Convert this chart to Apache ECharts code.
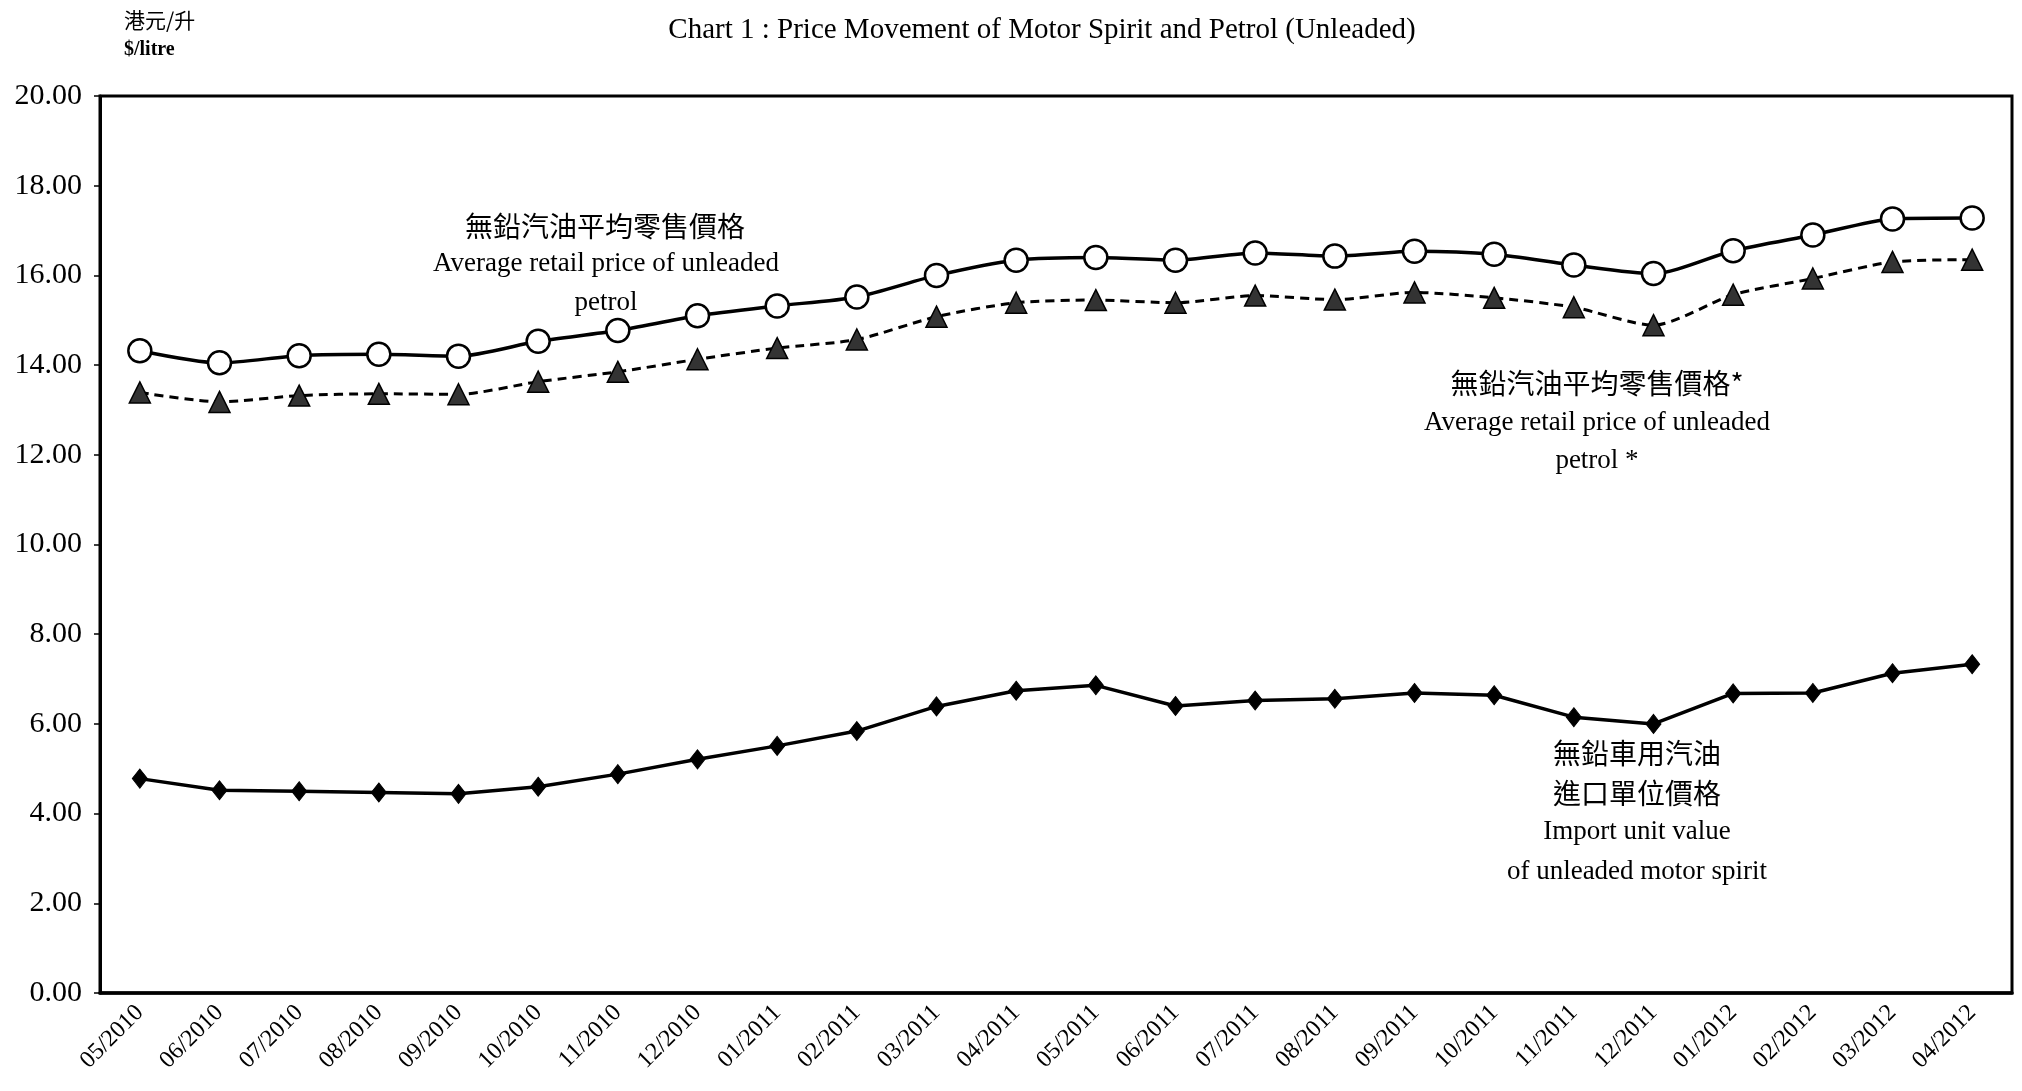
<!DOCTYPE html>
<html>
<head>
<meta charset="utf-8">
<script src="https://cdn.jsdelivr.net/npm/echarts@6/dist/echarts.min.js"></script>
<style>
html,body{margin:0;padding:0;background:#fff;}
#chart{width:2022px;height:1091px;}
</style>
</head>
<body>
<div id="chart"></div>
<script>
const categories = ['05/2010','06/2010','07/2010','08/2010','09/2010','10/2010','11/2010','12/2010',
  '01/2011','02/2011','03/2011','04/2011','05/2011','06/2011','07/2011','08/2011','09/2011','10/2011','11/2011','12/2011',
  '01/2012','02/2012','03/2012','04/2012'];
const retailPrice = [14.32,14.05,14.21,14.24,14.20,14.53,14.77,15.10,15.32,15.52,16.00,16.34,16.40,16.34,16.50,16.43,16.54,16.47,16.23,16.04,16.55,16.90,17.26,17.28];
const retailPriceStar = [13.39,13.18,13.32,13.36,13.35,13.63,13.85,14.13,14.38,14.57,15.08,15.39,15.45,15.39,15.55,15.46,15.62,15.50,15.29,14.89,15.57,15.93,16.30,16.35];
const importUnitValue = [4.78,4.52,4.50,4.47,4.44,4.60,4.88,5.21,5.51,5.84,6.39,6.74,6.86,6.40,6.52,6.56,6.69,6.64,6.15,6.00,6.68,6.69,7.13,7.33];
const yMin = 0, yMax = 20, yStep = 2;

const serif = '"Liberation Serif", "Times New Roman", serif';
const cjk = '"Noto Sans CJK TC", "Noto Sans CJK SC", sans-serif';

const chart = echarts.init(document.getElementById('chart'));
function txt(x, y, text, size, family, extra) {
  return {
    type: 'text', x: x, y: y,
    style: Object.assign({text: text, fill: '#000', fontSize: size, fontFamily: family,
      textAlign: 'center', textVerticalAlign: 'middle'}, extra || {})
  };
}
chart.setOption({
  backgroundColor: '#fff',
  animation: false,
  grid: {left: 100, right: 10, top: 96, bottom: 98, show: true, borderColor: '#000', borderWidth: 3},
  xAxis: {
    type: 'category', data: categories, boundaryGap: true,
    axisLine: {lineStyle: {color: '#000', width: 3.5}},
    axisTick: {inside: true, length: 10, lineStyle: {color: '#000', width: 1.5}, interval: 0},
    axisLabel: {rotate: 45, interval: 0, margin: 16, color: '#000', fontFamily: serif, fontSize: 24}
  },
  yAxis: {
    type: 'value', min: yMin, max: yMax, interval: yStep,
    axisLine: {show: true, lineStyle: {color: '#000', width: 3}},
    axisTick: {show: true, length: 6, lineStyle: {color: '#000', width: 1.5}},
    splitLine: {show: false},
    axisLabel: {formatter: v => v.toFixed(2), color: '#000', fontFamily: serif, fontSize: 30, margin: 18}
  },
  series: [
    {
      name: 'retail', type: 'line', data: retailPrice, smooth: 0.25,
      symbol: 'circle', symbolSize: 23,
      lineStyle: {color: '#000', width: 3.5},
      itemStyle: {color: '#fff', borderColor: '#000', borderWidth: 2.5}
    },
    {
      name: 'retailStar', type: 'line', data: retailPriceStar, smooth: 0.25,
      symbol: 'triangle', symbolSize: 21,
      lineStyle: {color: '#000', width: 3, type: [9, 6]},
      itemStyle: {color: '#333', borderColor: '#000', borderWidth: 1.5}
    },
    {
      name: 'import', type: 'line', data: importUnitValue,
      symbol: 'diamond', symbolSize: [15, 19],
      lineStyle: {color: '#000', width: 3.5},
      itemStyle: {color: '#000', borderColor: '#000', borderWidth: 1}
    }
  ],
  graphic: [
    txt(1042, 30, 'Chart 1 : Price Movement of Motor Spirit and Petrol (Unleaded)', 29, serif),
    txt(124, 20, '港元/升', 21, cjk, {textAlign: 'left'}),
    txt(124, 50, '$/litre', 20, serif, {textAlign: 'left', fontWeight: 'bold'}),
    txt(605, 226, '無鉛汽油平均零售價格', 28, cjk),
    txt(606, 264, 'Average retail price of unleaded', 27, serif),
    txt(606, 303, 'petrol', 27, serif),
    txt(1597, 383, '無鉛汽油平均零售價格*', 28, cjk),
    txt(1597, 423, 'Average retail price of unleaded', 27, serif),
    txt(1597, 461, 'petrol *', 27, serif),
    txt(1637, 753, '無鉛車用汽油', 28, cjk),
    txt(1637, 793, '進口單位價格', 28, cjk),
    txt(1637, 832, 'Import unit value', 27, serif),
    txt(1637, 872, 'of unleaded motor spirit', 27, serif)
  ]
});
</script>
</body>
</html>
